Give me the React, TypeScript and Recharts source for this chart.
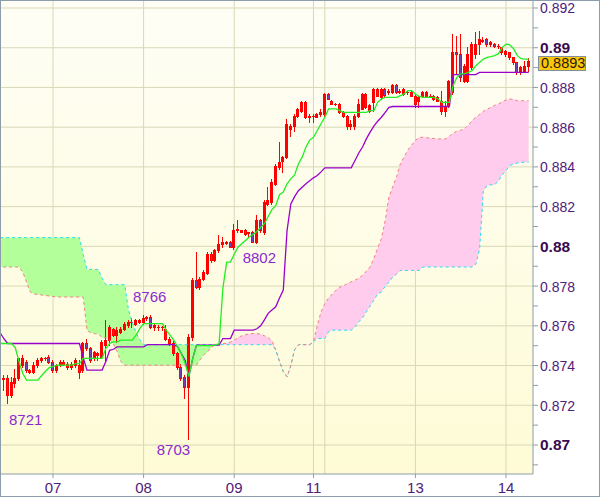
import React from 'react';
import { ComposedChart, XAxis, YAxis, CartesianGrid, Line, Area, Bar, ReferenceDot, ReferenceLine } from 'recharts';

const openP = [
  0.87335, 0.87335, 0.87251, 0.8731, 0.87335, 0.87402, 0.87419, 0.87377, 0.87369, 0.87402,
  0.87427, 0.87436, 0.87444, 0.87419, 0.87377, 0.87402, 0.87419, 0.8741, 0.87394, 0.87402,
  0.87402, 0.87377, 0.87511, 0.87486, 0.87436, 0.87452, 0.87444, 0.87503, 0.87528, 0.87586,
  0.87553, 0.8757, 0.87586, 0.87603, 0.8762, 0.87611, 0.8762, 0.8762, 0.87637, 0.87645,
  0.87595, 0.87595, 0.87595, 0.87586, 0.87536, 0.87511, 0.87461, 0.87393, 0.8734, 0.87293,
  0.87544, 0.87829, 0.87796, 0.87838, 0.87866, 0.8796, 0.8793, 0.8798, 0.88014, 0.88022,
  0.88022, 0.87996, 0.88089, 0.8808, 0.8808, 0.88065, 0.88072, 0.88022, 0.88131, 0.88072,
  0.88214, 0.88223, 0.88315, 0.88399, 0.88432, 0.88449, 0.88591, 0.88608, 0.88658, 0.88683,
  0.88725, 0.8865, 0.88658, 0.88653, 0.88667, 0.88667, 0.88767, 0.88734, 0.88717, 0.88717,
  0.88675, 0.88658, 0.88608, 0.88608, 0.88658, 0.88692, 0.88767, 0.88683, 0.88725, 0.88792,
  0.8875, 0.88792, 0.88776, 0.88776, 0.8881, 0.88776, 0.88767, 0.88776, 0.88776, 0.88759,
  0.88734, 0.88759, 0.88759, 0.88759, 0.88759, 0.88734, 0.88734, 0.88683, 0.88709, 0.88776,
  0.88977, 0.88968, 0.88834, 0.88834, 0.88901, 0.88968, 0.89018, 0.89035, 0.89044, 0.89018,
  0.89018, 0.8901, 0.89002, 0.88968, 0.88977, 0.88951, 0.88926, 0.88876, 0.88884, 0.88909,
];
const highP = [
  0.87352, 0.87352, 0.87343, 0.87385, 0.87436, 0.87452, 0.87427, 0.87385, 0.87419, 0.87436,
  0.87444, 0.87444, 0.87452, 0.87427, 0.8741, 0.87427, 0.87427, 0.87419, 0.87419, 0.87436,
  0.87427, 0.87519, 0.87536, 0.87494, 0.87475, 0.8747, 0.87528, 0.87628, 0.87603, 0.8759,
  0.87595, 0.87595, 0.8762, 0.87628, 0.87637, 0.87635, 0.87632, 0.87653, 0.8765, 0.87653,
  0.87611, 0.87603, 0.876, 0.87603, 0.87544, 0.87525, 0.8747, 0.8741, 0.8735, 0.8756,
  0.8784, 0.87971, 0.87846, 0.87879, 0.87971, 0.8797, 0.87985, 0.88055, 0.88047, 0.88025,
  0.88025, 0.88114, 0.88131, 0.88083, 0.88089, 0.88072, 0.88075, 0.88156, 0.88139, 0.88231,
  0.88298, 0.8834, 0.88416, 0.88524, 0.88457, 0.88642, 0.88617, 0.88667, 0.88695, 0.88734,
  0.8873, 0.88667, 0.88667, 0.8867, 0.88692, 0.8877, 0.8877, 0.88736, 0.8872, 0.8872,
  0.8868, 0.8866, 0.88635, 0.88667, 0.88742, 0.8877, 0.8877, 0.88717, 0.88795, 0.88795,
  0.88795, 0.88795, 0.8879, 0.88815, 0.88815, 0.8879, 0.88795, 0.88784, 0.8878, 0.88767,
  0.88759, 0.8878, 0.8878, 0.88765, 0.88763, 0.88755, 0.88784, 0.88734, 0.8884, 0.89068,
  0.8906, 0.89068, 0.88918, 0.89002, 0.89027, 0.89077, 0.89085, 0.89052, 0.8905, 0.89035,
  0.89025, 0.89018, 0.89005, 0.8899, 0.8898, 0.88955, 0.8893, 0.8891, 0.88935, 0.8895,
];
const lowP = [
  0.87276, 0.8721, 0.87243, 0.87293, 0.87327, 0.87394, 0.87369, 0.8736, 0.8736, 0.87394,
  0.87419, 0.87427, 0.87415, 0.87369, 0.8737, 0.87398, 0.87402, 0.87385, 0.87385, 0.87394,
  0.87335, 0.87369, 0.87477, 0.87419, 0.8743, 0.87427, 0.87436, 0.87419, 0.87503, 0.8755,
  0.87519, 0.87565, 0.8758, 0.87595, 0.87595, 0.87605, 0.87615, 0.87611, 0.8763, 0.8759,
  0.87578, 0.87578, 0.8758, 0.87528, 0.87503, 0.87455, 0.87385, 0.87327, 0.87235, 0.8703,
  0.8753, 0.8779, 0.87787, 0.87829, 0.87863, 0.8792, 0.87925, 0.87971, 0.87996, 0.88014,
  0.87996, 0.87988, 0.88072, 0.8807, 0.88055, 0.88047, 0.8802, 0.88018, 0.88072, 0.88064,
  0.88206, 0.88214, 0.88307, 0.8839, 0.88373, 0.88445, 0.88558, 0.88583, 0.8865, 0.88675,
  0.88645, 0.88625, 0.88625, 0.8865, 0.88658, 0.88658, 0.8874, 0.88715, 0.8871, 0.8867,
  0.8865, 0.88591, 0.88591, 0.88591, 0.8865, 0.8869, 0.88695, 0.88675, 0.88683, 0.88755,
  0.8874, 0.88755, 0.88767, 0.8877, 0.8877, 0.8877, 0.8876, 0.88767, 0.88755, 0.88704,
  0.88704, 0.88755, 0.88755, 0.8875, 0.88738, 0.8873, 0.88667, 0.88658, 0.887, 0.88767,
  0.88868, 0.88834, 0.88826, 0.88826, 0.88893, 0.8895, 0.88968, 0.89027, 0.8901, 0.8901,
  0.89005, 0.88998, 0.8897, 0.8896, 0.88945, 0.8892, 0.8887, 0.8887, 0.88876, 0.88884,
];
const closeP = [
  0.8733, 0.87251, 0.87318, 0.87335, 0.87436, 0.87436, 0.87377, 0.87369, 0.87402, 0.87427,
  0.87436, 0.8744, 0.87419, 0.87377, 0.87402, 0.87419, 0.8741, 0.87394, 0.8741, 0.87427,
  0.87369, 0.87511, 0.87486, 0.87427, 0.87469, 0.87461, 0.87519, 0.87528, 0.87595, 0.87553,
  0.87578, 0.87586, 0.87611, 0.8762, 0.8762, 0.87628, 0.87628, 0.87637, 0.87645, 0.87595,
  0.87603, 0.87595, 0.87595, 0.87536, 0.87511, 0.87461, 0.87393, 0.87335, 0.87293, 0.87544,
  0.87829, 0.87796, 0.87838, 0.87871, 0.87963, 0.8793, 0.8798, 0.88014, 0.88022, 0.88017,
  0.87996, 0.8808, 0.8808, 0.88072, 0.88064, 0.8807, 0.88022, 0.88131, 0.8808, 0.88223,
  0.88231, 0.88323, 0.88407, 0.88424, 0.88449, 0.88617, 0.88608, 0.88658, 0.88692, 0.88725,
  0.8865, 0.88658, 0.88658, 0.88667, 0.88675, 0.88767, 0.88742, 0.88717, 0.88717, 0.88675,
  0.88658, 0.88608, 0.88617, 0.88658, 0.88717, 0.88767, 0.887, 0.8871, 0.88792, 0.88759,
  0.88792, 0.8876, 0.88784, 0.8881, 0.88776, 0.88784, 0.88792, 0.88778, 0.88759, 0.88717,
  0.8875, 0.88776, 0.88776, 0.88755, 0.88742, 0.8875, 0.88683, 0.88709, 0.88834, 0.88977,
  0.88968, 0.88851, 0.88909, 0.88968, 0.89018, 0.89018, 0.89044, 0.89037, 0.89018, 0.89027,
  0.8901, 0.8901, 0.88977, 0.88985, 0.88951, 0.88926, 0.88876, 0.88901, 0.88909, 0.88935,
];
const tenkan = [
  0.87511, 0.87511, 0.87511, 0.8749, 0.8742, 0.8736, 0.87327, 0.87327, 0.87327, 0.87327,
  0.8735, 0.8737, 0.8739, 0.87394, 0.87402, 0.87402, 0.87402, 0.87402, 0.87402, 0.8741,
  0.8741, 0.87436, 0.87436, 0.87436, 0.87436, 0.87436, 0.87436, 0.87486, 0.87511, 0.87519,
  0.87519, 0.87528, 0.87528, 0.87528, 0.87528, 0.87553, 0.87586, 0.87611, 0.87611, 0.87611,
  0.87611, 0.87611, 0.87611, 0.87578, 0.87553, 0.87528, 0.87494, 0.8746, 0.8741, 0.87345,
  0.87435, 0.875, 0.875, 0.875, 0.875, 0.875, 0.87503, 0.8751, 0.8779, 0.87921,
  0.87921, 0.8796, 0.87996, 0.88013, 0.8803, 0.88047, 0.8806, 0.88075, 0.88095, 0.88114,
  0.8815, 0.88185, 0.88205, 0.8826, 0.88273, 0.88315, 0.8834, 0.8836, 0.88415, 0.88449,
  0.88499, 0.88535, 0.88549, 0.88583, 0.88617, 0.8865, 0.88692, 0.88692, 0.88692, 0.88683,
  0.88675, 0.88675, 0.88675, 0.88675, 0.88675, 0.88675, 0.88675, 0.88683, 0.88683, 0.88725,
  0.88742, 0.8875, 0.8875, 0.8875, 0.8875, 0.88759, 0.88767, 0.88784, 0.88784, 0.88767,
  0.88755, 0.8875, 0.8875, 0.8875, 0.8875, 0.88742, 0.88725, 0.88725, 0.88725, 0.8881,
  0.88851, 0.88868, 0.88868, 0.88876, 0.88884, 0.88909, 0.88926, 0.88943, 0.88951, 0.88955,
  0.8896, 0.8897, 0.89002, 0.89018, 0.89015, 0.88995, 0.8896, 0.88945, 0.88943, 0.88943,
];
const kijun = [
  0.87535, 0.87511, 0.87511, 0.87511, 0.87511, 0.87511, 0.87511, 0.87511, 0.87511, 0.87511,
  0.87511, 0.87511, 0.87511, 0.87511, 0.87511, 0.87511, 0.87511, 0.87511, 0.87511, 0.87511,
  0.87511, 0.8744, 0.87377, 0.87377, 0.87377, 0.87377, 0.87377, 0.8742, 0.87477, 0.87482,
  0.87494, 0.87494, 0.87494, 0.87494, 0.87494, 0.87494, 0.87494, 0.87494, 0.87505, 0.87505,
  0.87505, 0.87505, 0.87505, 0.87505, 0.87505, 0.87505, 0.87495, 0.8746, 0.87427, 0.87345,
  0.87435, 0.87503, 0.87503, 0.87503, 0.87503, 0.87503, 0.87503, 0.87503, 0.87536, 0.87536,
  0.87536, 0.87578, 0.87578, 0.87578, 0.87578, 0.87578, 0.87578, 0.87585, 0.876, 0.8763,
  0.87663, 0.8768, 0.87696, 0.8774, 0.8778, 0.8808, 0.88214, 0.8825, 0.8828, 0.88298,
  0.88315, 0.8833, 0.88345, 0.88357, 0.88375, 0.88395, 0.88395, 0.88395, 0.88395, 0.88395,
  0.88395, 0.88395, 0.88395, 0.88432, 0.8847, 0.885, 0.88541, 0.88575, 0.88605, 0.8863,
  0.8865, 0.88675, 0.887, 0.88704, 0.88704, 0.88704, 0.88704, 0.88704, 0.88704, 0.88704,
  0.88704, 0.88704, 0.88704, 0.88704, 0.88704, 0.88704, 0.88704, 0.88704, 0.88704, 0.88865,
  0.88865, 0.88865, 0.88865, 0.88865, 0.88865, 0.88865, 0.88876, 0.88876, 0.88876, 0.88876,
  0.88876, 0.88876, 0.88876, 0.88876, 0.88876, 0.88876, 0.88876, 0.88876, 0.88876, 0.88876,
];
const spanA = [
  0.87896, 0.87896, 0.87896, 0.87896, 0.87896, 0.8787, 0.8782, 0.8777, 0.8776, 0.87758,
  0.87755, 0.87753, 0.8775, 0.87748, 0.87745, 0.87745, 0.87745, 0.87745, 0.87745, 0.87745,
  0.87745, 0.87745, 0.87578, 0.87565, 0.8756, 0.8756, 0.8754, 0.8754, 0.8753, 0.87511,
  0.8747, 0.8742, 0.87402, 0.87402, 0.87402, 0.87402, 0.87402, 0.87402, 0.87402, 0.87402,
  0.87402, 0.87402, 0.87402, 0.87402, 0.87402, 0.87402, 0.87402, 0.87402, 0.87402, 0.87402,
  0.87402, 0.87402, 0.8743, 0.87455, 0.8747, 0.87494, 0.87503, 0.87505, 0.8751, 0.87513,
  0.87518, 0.87528, 0.8754, 0.8755, 0.87555, 0.8756, 0.87561, 0.87561, 0.87558, 0.8755,
  0.8754, 0.87525, 0.8748, 0.8742, 0.8737, 0.87343, 0.874, 0.8748, 0.87505, 0.87505,
  0.87505, 0.87505, 0.8752, 0.876, 0.8767, 0.87712, 0.8774, 0.8776, 0.8778, 0.87795,
  0.87802, 0.87813, 0.87822, 0.8783, 0.8784, 0.87854, 0.87875, 0.87896, 0.8794, 0.8799,
  0.8804, 0.8813, 0.8825, 0.883, 0.8835, 0.88415, 0.8845, 0.88485, 0.8851, 0.88533,
  0.88549, 0.88549, 0.88547, 0.88545, 0.88543, 0.88541, 0.88541, 0.88541, 0.88555, 0.8857,
  0.8858, 0.88585, 0.88591, 0.8861, 0.88633, 0.8865, 0.88665, 0.8868, 0.8869, 0.887,
  0.8871, 0.88717, 0.88728, 0.88737, 0.88742, 0.8874, 0.88733, 0.88733, 0.88733, 0.88733,
];
const spanB = [
  0.88044, 0.88044, 0.88044, 0.88044, 0.88044, 0.88044, 0.88044, 0.88044, 0.88044, 0.88044,
  0.88044, 0.88044, 0.88044, 0.88044, 0.88044, 0.88044, 0.88044, 0.88044, 0.88044, 0.88044,
  0.88044, 0.8796, 0.87884, 0.87884, 0.87884, 0.87884, 0.8784, 0.87807, 0.87807, 0.87807,
  0.87807, 0.87807, 0.87807, 0.8768, 0.8762, 0.87565, 0.8753, 0.87505, 0.87505, 0.87505,
  0.87505, 0.87505, 0.87505, 0.87505, 0.87505, 0.87505, 0.87505, 0.87505, 0.87505, 0.87505,
  0.87505, 0.87505, 0.87505, 0.87505, 0.87505, 0.87505, 0.87505, 0.87505, 0.87505, 0.87505,
  0.87505, 0.87505, 0.87505, 0.87505, 0.87505, 0.87505, 0.87505, 0.87505, 0.87505, 0.87505,
  0.87505, 0.87505, 0.8748, 0.8742, 0.8737, 0.87343, 0.874, 0.8748, 0.87505, 0.87505,
  0.87505, 0.87505, 0.8752, 0.87536, 0.87536, 0.87536, 0.8757, 0.87578, 0.87578, 0.87578,
  0.87578, 0.87578, 0.87578, 0.87594, 0.8762, 0.8764, 0.8767, 0.877, 0.8773, 0.8776,
  0.8777, 0.878, 0.8782, 0.87846, 0.8786, 0.87879, 0.87879, 0.87879, 0.87879, 0.87879,
  0.87879, 0.87896, 0.87896, 0.87896, 0.87896, 0.87896, 0.87896, 0.87896, 0.87896, 0.87896,
  0.87896, 0.87896, 0.87896, 0.87896, 0.87896, 0.8791, 0.87985, 0.8828, 0.88307, 0.8831,
  0.8831, 0.8833, 0.8836, 0.88382, 0.88407, 0.88415, 0.8842, 0.88422, 0.88424, 0.88424,
];
// indicator values at the bar just left of the first visible candle (index -1)
const edgeTenkan = 0.87511;
const edgeKijun = 0.87565;
const edgeSpanA = 0.87896;
const edgeSpanB = 0.88044;

const dayTicks = [13, 37, 61, 82, 109, 133];
const dayLabels = ['07', '08', '09', '11', '13', '14'];
const dayGridLines = [13, 37, 61, 82, 85, 109, 133];
const yTicks = [
  0.869, 0.87, 0.871, 0.872, 0.873, 0.874, 0.875, 0.876, 0.877, 0.878, 0.879, 0.88,
  0.881, 0.882, 0.883, 0.884, 0.885, 0.886, 0.887, 0.888, 0.889, 0.89, 0.891, 0.892,
];
const yTickText = [
  '', '0.87', '', '0.872', '', '0.874', '', '0.876', '', '0.878', '', '0.88',
  '', '0.882', '', '0.884', '', '0.886', '', '0.888', '', '0.89', '', '0.892',
];
const yBoldText = ['0.87', '0.88', '0.89'];
const yGridValues = [0.87, 0.872, 0.874, 0.876, 0.878, 0.88, 0.882, 0.884, 0.886, 0.888, 0.89, 0.892];
const annIndex = [1, 37, 49, 66];
const annValue = [0.8721, 0.8766, 0.8703, 0.8802];
const annText = ['8721', '8766', '8703', '8802'];
const lastPrice = 0.8893;
const lastPriceText = '0.8893';

const band = (a: number, b: number) => ({
  green: b >= a ? [a, b] : [a, a],
  pink: a > b ? [b, a] : [b, b],
});

const rows = [
  {
    i: -1,
    range: null as any,
    tenkan: edgeTenkan,
    kijun: edgeKijun,
    spanA: edgeSpanA,
    spanB: edgeSpanB,
    ...band(edgeSpanA, edgeSpanB),
  },
  ...openP.map((o, i) => ({
    i,
    open: o,
    high: highP[i],
    low: lowP[i],
    close: closeP[i],
    range: [lowP[i], highP[i]],
    tenkan: tenkan[i],
    kijun: kijun[i],
    spanA: spanA[i],
    spanB: spanB[i],
    ...band(spanA[i], spanB[i]),
  })),
];

const FONT = '"Liberation Sans", Arial, sans-serif';
const AXIS_COLOR = '#8d9cab';
const LABEL_COLOR = '#50217a';

const Candle = (props: any) => {
  const { x, y, width, height, payload } = props;
  if (!payload || payload.open == null || x == null || y == null) return null;
  const top = Math.min(y, y + height);
  const bot = Math.max(y, y + height);
  const rng = payload.high - payload.low;
  const toPx = (v: number) => (rng > 0 ? top + ((payload.high - v) / rng) * (bot - top) : top);
  const cx = Math.floor(x + width / 2) + 0.5;
  const yo = toPx(payload.open);
  const yc = toPx(payload.close);
  const bTop = Math.round(Math.min(yo, yc)) + 0.5;
  const bBot = Math.round(Math.max(yo, yc)) + 0.5;
  const bear = payload.close < payload.open;
  return (
    <g>
      <line x1={cx} x2={cx} y1={Math.round(top)} y2={Math.round(bot) + 1} stroke="#ff0000" strokeWidth={1} />
      {bBot - bTop < 1 ? (
        <line x1={cx - 1.5} x2={cx + 1.5} y1={bTop} y2={bTop} stroke="#ff0000" strokeWidth={1} />
      ) : (
        <rect x={cx - 1} y={bTop} width={2} height={bBot - bTop} fill={bear ? '#7b3fb5' : 'none'} stroke="#ff0000" strokeWidth={1} />
      )}
    </g>
  );
};

const YTick = (props: any) => {
  const { x, y, payload } = props;
  const idx = yTicks.indexOf(payload.value);
  const text = idx >= 0 ? yTickText[idx] : '';
  if (!text) return null;
  const bold = yBoldText.includes(text);
  return (
    <text x={x} y={y} dy={5.5} textAnchor="start" fontFamily={FONT} fontSize={bold ? 15.5 : 14}
      fontWeight={bold ? 'bold' : 'normal'} fill={bold ? '#3a0a50' : LABEL_COLOR}>
      {text}
    </text>
  );
};

const XTick = (props: any) => {
  const { x, y, payload } = props;
  const idx = dayTicks.indexOf(payload.value);
  return (
    <text x={x} y={y} dy={13} textAnchor="middle" fontFamily={FONT} fontSize={15} fill={LABEL_COLOR}>
      {idx >= 0 ? dayLabels[idx] : ''}
    </text>
  );
};

const annOffsets = [
  { dx: 1.3, dy: 22 },
  { dx: -10.6, dy: -12 },
  { dx: -32.2, dy: 16 },
  { dx: -10.4, dy: 20.7 },
];

const makeAnnShape = (k: number) => (p: any) => (
  <text x={p.cx + annOffsets[k].dx} y={p.cy + annOffsets[k].dy} textAnchor="start" fontFamily={FONT}
    fontSize={15} fill="#8a2bd0">
    {annText[k]}
  </text>
);

const PriceTag = (p: any) => {
  const vb = p.viewBox || {};
  const x0 = (vb.x || 0) + (vb.width || 0) + 5;
  const yc = vb.y || 0;
  return (
    <g>
      <rect x={x0 + 0.5} y={Math.round(yc) - 5.5} width={47} height={14} fill="#f9c80e" stroke="#7f8fa0" strokeWidth={1} />
      <text x={x0 + 3} y={yc} dy={6.5} fontFamily={FONT} fontSize={14.5} fill="#2a1a00">
        {lastPriceText}
      </text>
    </g>
  );
};

export default function App() {
  return (
    <div style={{ position: 'absolute', left: 0, top: 0, width: 600, height: 497, background: '#ffffff' }}>
      <ComposedChart width={600} height={497} data={rows} margin={{ top: 1, right: 0, bottom: 0, left: 1 }}>
        <defs>
          <linearGradient id="bgGrad" x1="0" y1="0" x2="0" y2="1">
            <stop offset="0%" stopColor="#fefef6" />
            <stop offset="100%" stopColor="#fefbd6" />
          </linearGradient>
        </defs>
        <CartesianGrid fill="url(#bgGrad)" stroke="#d8d8b6" strokeWidth={1}
          horizontalValues={yGridValues} verticalValues={dayGridLines} />
        <XAxis dataKey="i" type="number" domain={[-0.775, 140.15]} ticks={dayTicks} interval={0}
          allowDataOverflow height={23} tickSize={4} tickMargin={2}
          axisLine={{ stroke: AXIS_COLOR }} tickLine={{ stroke: AXIS_COLOR }} tick={<XTick />} />
        <YAxis orientation="right" type="number" domain={[0.86854, 0.892352]} ticks={yTicks} interval={0}
          allowDataOverflow width={67} tickSize={5} tickMargin={2}
          axisLine={{ stroke: AXIS_COLOR }} tickLine={{ stroke: AXIS_COLOR }} tick={<YTick />} />
        <Area type="linear" dataKey="green" stroke="none" fill="#b3ff99" fillOpacity={1} isAnimationActive={false} activeDot={false} />
        <Area type="linear" dataKey="pink" stroke="none" fill="#ffccee" fillOpacity={1} isAnimationActive={false} activeDot={false} />
        <Line type="linear" dataKey="spanB" stroke="#22ddee" strokeWidth={1} strokeDasharray="3 3" dot={false} isAnimationActive={false} activeDot={false} />
        <Line type="linear" dataKey="spanA" stroke="#f08080" strokeWidth={1} strokeDasharray="3 3" strokeDashoffset={3} dot={false} isAnimationActive={false} activeDot={false} />
        <Bar dataKey="range" barSize={3} shape={<Candle />} isAnimationActive={false} />
        <Line type="linear" dataKey="kijun" stroke="#9900cc" strokeWidth={1.3} dot={false} isAnimationActive={false} activeDot={false} />
        <Line type="linear" dataKey="tenkan" stroke="#22ee22" strokeWidth={1.3} dot={false} isAnimationActive={false} activeDot={false} />
        {annIndex.map((ix, k) => (
          <ReferenceDot key={k} x={ix} y={annValue[k]} r={0} ifOverflow="visible" shape={makeAnnShape(k)} />
        ))}
        <ReferenceLine y={lastPrice} stroke="none" ifOverflow="visible" label={(p: any) => <PriceTag {...p} />} />
      </ComposedChart>
      <div style={{ position: 'absolute', left: 0, top: 0, width: 600, height: 497, boxSizing: 'border-box',
        border: `1px solid ${AXIS_COLOR}`, pointerEvents: 'none' }} />
    </div>
  );
}
